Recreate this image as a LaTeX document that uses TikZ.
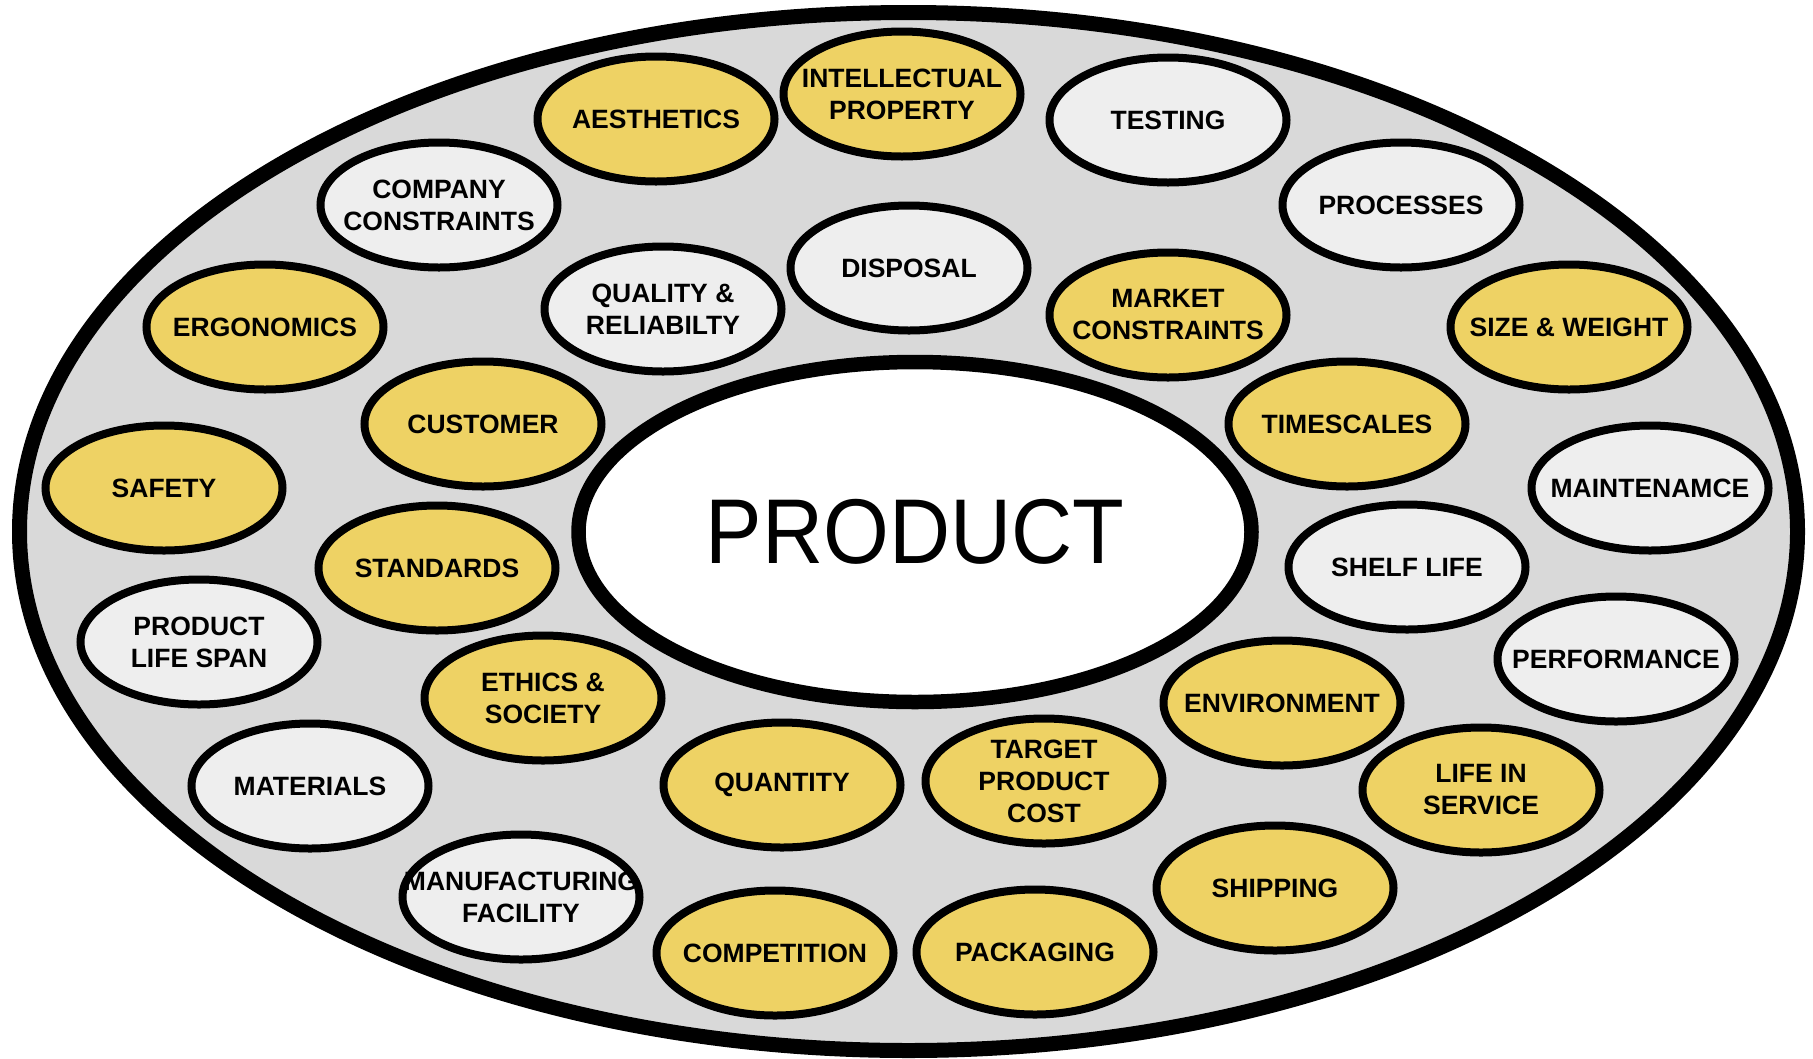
\documentclass[tikz,border=0pt]{standalone}
\usepackage{fontspec}
\usepackage{graphicx}
\setmainfont{Liberation Sans}
\usetikzlibrary{shapes.geometric}
\definecolor{ringgray}{HTML}{D9D9D9}
\definecolor{softgray}{HTML}{EEEEEE}
\definecolor{gold}{HTML}{EED264}
\begin{document}
\begin{tikzpicture}[x=1pt,y=-1pt,
		topic/.style={ellipse,draw=black,line width=8pt,minimum width=237pt,
			minimum height=125pt,inner xsep=-45pt,inner ysep=0pt,align=center,
			font=\fontsize{26.5}{32}\selectfont\bfseries},
		key/.style={topic,fill=gold},
		other/.style={topic,fill=softgray}]
	\useasboundingbox (0,0) rectangle (1813,1058);
	\node[ellipse,draw=black,line width=15pt,fill=ringgray,
		minimum width=1778pt,minimum height=1038pt] (ring) at (908.5,531.5) {};
	% top arc
	\node[key] (aesth) at (656,119) {AESTHETICS};
	\node[key] (ip) at (902,94) {INTELLECTUAL\\PROPERTY};
	\node[other] (testing) at (1168,120) {TESTING};
	\node[other] (company) at (439,205) {COMPANY\\CONSTRAINTS};
	\node[other] (processes) at (1401,205) {PROCESSES};
	\node[other] (disposal) at (909,268) {DISPOSAL};
	\node[other] (quality) at (663,309) {QUALITY \&\\RELIABILTY};
	\node[key] (market) at (1168,315) {MARKET\\CONSTRAINTS};
	\node[key] (ergo) at (265,327) {ERGONOMICS};
	\node[key] (size) at (1569,327) {SIZE \& WEIGHT};
	% middle band
	\node[key] (customer) at (483,424) {CUSTOMER};
	\node[key] (times) at (1347,424) {TIMESCALES};
	\node[key] (safety) at (164,488) {SAFETY};
	\node[other] (maint) at (1650,488) {MAINTENAMCE};
	\node[key] (standards) at (437,568) {STANDARDS};
	\node[other] (shelf) at (1407,567) {SHELF LIFE};
	\node[other] (span) at (199,642) {PRODUCT\\LIFE SPAN};
	\node[other] (perf) at (1616,659) {PERFORMANCE};
	% bottom arc
	\node[key] (ethics) at (543,698) {ETHICS \&\\SOCIETY};
	\node[key] (environ) at (1282,703) {ENVIRONMENT};
	\node[key] (cost) at (1044,781) {TARGET\\PRODUCT\\COST};
	\node[key] (quantity) at (782,785) {QUANTITY};
	\node[other] (materials) at (310,786) {MATERIALS};
	\node[key] (service) at (1481,790) {LIFE IN\\SERVICE};
	\node[other] (facility) at (521,897) {MANUFACTURING\\FACILITY};
	\node[key] (shipping) at (1275,888) {SHIPPING};
	\node[key] (compet) at (775,953) {COMPETITION};
	\node[key] (packaging) at (1035,952) {PACKAGING};
	\node[ellipse,draw=black,line width=14.5pt,fill=white,inner sep=0pt,
		minimum width=673pt,minimum height=340pt,
		font=\fontsize{92}{92}\selectfont] (product) at (915,532)
		{\scalebox{0.92}[1]{PRODUCT}};
\end{tikzpicture}
\end{document}
